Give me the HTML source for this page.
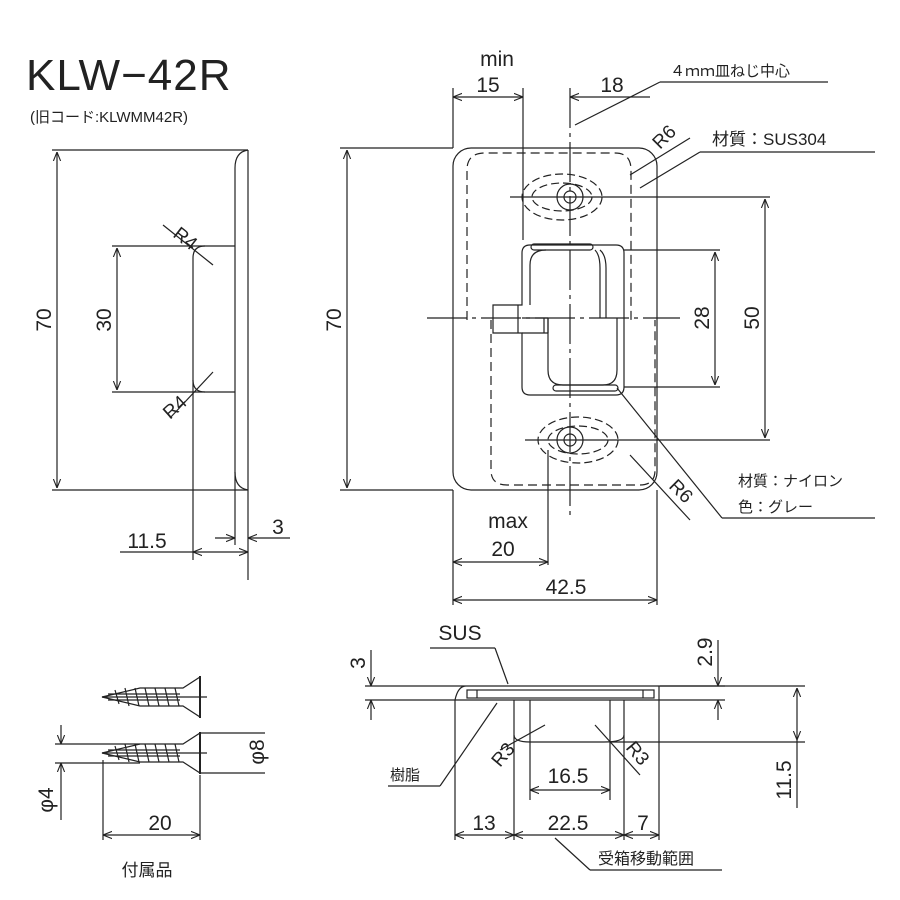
<!DOCTYPE html>
<html><head><meta charset="utf-8"><style>
body{margin:0;background:#fff}
svg{display:block}
text{font-family:"Liberation Sans","Noto Sans CJK JP",sans-serif;fill:#222}
</style></head><body>
<svg width="900" height="900" viewBox="0 0 900 900" xmlns="http://www.w3.org/2000/svg">
<defs>
<marker id="a" viewBox="0 0 10 10" refX="10" refY="5" markerWidth="9" markerHeight="9" orient="auto-start-reverse" markerUnits="userSpaceOnUse"><path d="M0,1 L10,5 L0,9" fill="none" stroke="#222" stroke-width="1.2"/></marker>
</defs>
<g stroke="#222" stroke-width="1.2" fill="none">
<!-- LEFT VIEW -->
<line x1="52" y1="150" x2="248" y2="150"/>
<line x1="52" y1="490" x2="248" y2="490"/>
<line x1="248" y1="150" x2="248" y2="580"/>
<path d="M248,150 Q235,152 235,168 L235,472 Q235,488 248,490"/>
<line x1="235" y1="472" x2="235" y2="545"/>
<line x1="112" y1="246" x2="235" y2="246"/>
<line x1="112" y1="392" x2="235" y2="392"/>
<path d="M205,246 Q193,246 193,258 L193,380 Q193,392 205,392"/>
<line x1="193" y1="380" x2="193" y2="560"/>
<line x1="57" y1="152" x2="57" y2="488" marker-start="url(#a)" marker-end="url(#a)"/>
<line x1="117" y1="248" x2="117" y2="390" marker-start="url(#a)" marker-end="url(#a)"/>
<line x1="120" y1="552" x2="193" y2="552"/>
<line x1="193" y1="552" x2="248" y2="552" marker-start="url(#a)" marker-end="url(#a)"/>
<line x1="215" y1="538" x2="235" y2="538" marker-end="url(#a)"/>
<line x1="290" y1="538" x2="248" y2="538" marker-end="url(#a)"/>
<line x1="163" y1="225" x2="213" y2="265"/>
<line x1="170" y1="418" x2="213" y2="372"/>

<!-- FRONT VIEW -->
<rect x="453" y="148" width="204" height="342" rx="18"/>
<path d="M467,320 L467,170 Q467,153 485,153 L615,153 Q631,153 631,170 L631,320" stroke-dasharray="9,5"/>
<path d="M491,320 L491,470 Q491,485 507,485 L640,485 Q655,485 655,470 L655,320" stroke-dasharray="9,5"/>
<line x1="427" y1="318" x2="680" y2="318" stroke-dasharray="40,5,4,5"/>
<line x1="570" y1="88" x2="570" y2="520" stroke-dasharray="40,5,4,5"/>
<line x1="523" y1="88" x2="523" y2="240"/>
<line x1="453" y1="88" x2="453" y2="148"/>
<line x1="453" y1="490" x2="453" y2="605"/>
<line x1="657" y1="490" x2="657" y2="605"/>
<line x1="548" y1="450" x2="548" y2="565"/>
<circle cx="570" cy="197" r="13"/><circle cx="570" cy="197" r="6"/>
<ellipse cx="562" cy="197" rx="40" ry="23" stroke-dasharray="8,4"/>
<ellipse cx="562" cy="197" rx="30" ry="14" stroke-dasharray="8,4"/>
<circle cx="570" cy="440" r="13"/><circle cx="570" cy="440" r="6"/>
<ellipse cx="578" cy="440" rx="40" ry="23" stroke-dasharray="8,4"/>
<ellipse cx="578" cy="440" rx="30" ry="14" stroke-dasharray="8,4"/>
<line x1="510" y1="197" x2="770" y2="197"/>
<line x1="525" y1="440" x2="770" y2="440"/>
<path d="M530,245 L616,245 Q624,245 624,253 L624,387 Q624,395 616,395 L530,395 Q522,395 522,387 L522,333 L493,333 L493,305 L522,305 L522,253 Q522,245 530,245 Z"/>
<path d="M546,250 Q530,250 530,265 L530,305"/>
<path d="M595,250 Q600,255 600,268 L600,318"/>
<path d="M600,250 Q606,255 606,268 L606,318"/>
<rect x="531" y="244" width="62" height="6" rx="3"/>
<rect x="553" y="385" width="65" height="6" rx="3"/>
<path d="M548,318 L548,370 Q548,385 563,385 L603,385 Q617,385 617,370 L617,318"/>
<line x1="522" y1="318" x2="548" y2="318"/>
<line x1="548" y1="318" x2="548" y2="333"/>
<line x1="522" y1="333" x2="548" y2="333"/>
<line x1="518" y1="305" x2="518" y2="333"/>
<line x1="544" y1="318" x2="544" y2="333"/>
<line x1="624" y1="250" x2="720" y2="250"/>
<line x1="624" y1="387" x2="720" y2="387"/>
<line x1="453" y1="97" x2="523" y2="97" marker-start="url(#a)" marker-end="url(#a)"/>
<line x1="570" y1="97" x2="630" y2="97" marker-start="url(#a)"/>
<line x1="630" y1="97" x2="650" y2="97"/>
<line x1="575" y1="125" x2="660" y2="82"/>
<line x1="660" y1="82" x2="828" y2="82"/>
<line x1="340" y1="148" x2="453" y2="148"/>
<line x1="340" y1="490" x2="453" y2="490"/>
<line x1="347" y1="150" x2="347" y2="488" marker-start="url(#a)" marker-end="url(#a)"/>
<line x1="715" y1="252" x2="715" y2="385" marker-start="url(#a)" marker-end="url(#a)"/>
<line x1="765" y1="199" x2="765" y2="438" marker-start="url(#a)" marker-end="url(#a)"/>
<line x1="453" y1="562" x2="548" y2="562" marker-start="url(#a)" marker-end="url(#a)"/>
<line x1="453" y1="600" x2="657" y2="600" marker-start="url(#a)" marker-end="url(#a)"/>
<line x1="630" y1="175" x2="690" y2="138"/>
<line x1="640" y1="188" x2="700" y2="152"/>
<line x1="700" y1="152" x2="875" y2="152"/>
<line x1="630" y1="455" x2="690" y2="520"/>
<line x1="617" y1="388" x2="722" y2="518"/>
<line x1="722" y1="518" x2="875" y2="518"/>

<!-- SECTION VIEW -->
<path d="M365,686 L466,686 Q458,686 455,700 L365,700"/>
<line x1="466" y1="686" x2="725" y2="686"/>
<line x1="455" y1="700" x2="725" y2="700"/>
<line x1="660" y1="686" x2="805" y2="686"/>
<line x1="455" y1="700" x2="455" y2="840"/>
<line x1="659" y1="686" x2="659" y2="840"/>
<rect x="467" y="690" width="187" height="8"/>
<line x1="477" y1="690" x2="477" y2="698"/>
<line x1="643" y1="690" x2="643" y2="698"/>
<path d="M514,700 L514,735 Q514,742 530,742 L604,742 Q624,742 624,735 L624,700"/>
<line x1="530" y1="700" x2="530" y2="800"/>
<line x1="610" y1="700" x2="610" y2="800"/>
<line x1="514" y1="735" x2="514" y2="840"/>
<line x1="624" y1="735" x2="624" y2="840"/>
<line x1="610" y1="742" x2="805" y2="742"/>
<line x1="371" y1="650" x2="371" y2="686" marker-end="url(#a)"/>
<line x1="371" y1="720" x2="371" y2="700" marker-end="url(#a)"/>
<line x1="718" y1="640" x2="718" y2="686" marker-end="url(#a)"/>
<line x1="718" y1="720" x2="718" y2="700" marker-end="url(#a)"/>
<line x1="797" y1="688" x2="797" y2="740" marker-start="url(#a)" marker-end="url(#a)"/>
<line x1="797" y1="740" x2="797" y2="808"/>
<line x1="530" y1="790" x2="610" y2="790" marker-start="url(#a)" marker-end="url(#a)"/>
<line x1="455" y1="835" x2="514" y2="835" marker-start="url(#a)" marker-end="url(#a)"/>
<line x1="514" y1="835" x2="624" y2="835" marker-start="url(#a)" marker-end="url(#a)"/>
<line x1="624" y1="835" x2="659" y2="835" marker-start="url(#a)" marker-end="url(#a)"/>
<line x1="500" y1="750" x2="545" y2="725"/>
<line x1="595" y1="725" x2="640" y2="775"/>
<line x1="430" y1="648" x2="495" y2="648"/>
<line x1="495" y1="648" x2="508" y2="684"/>
<line x1="388" y1="786" x2="440" y2="786"/>
<line x1="440" y1="786" x2="497" y2="703"/>
<line x1="555" y1="838" x2="590" y2="870"/>
<line x1="590" y1="870" x2="722" y2="870"/>

<!-- SCREWS -->
<path d="M102,697 L140,688 L183,688 L200,677 L200,717 L183,706 L140,706 Z"/>
<line x1="200" y1="676" x2="200" y2="718" stroke-width="2"/>
<line x1="102" y1="697" x2="207" y2="697"/>
<path d="M108,694 L180,694 M108,700 L180,700"/>
<path d="M115,690 l4,14 M125,688 l4,18 M135,688 l4,18 M145,688 l4,18 M155,688 l4,18 M165,688 l4,18 M175,688 l4,18"/>
<path d="M102,753 L140,744 L183,744 L200,733 L200,773 L183,762 L140,762 Z"/>
<line x1="200" y1="732" x2="200" y2="774" stroke-width="2"/>
<line x1="102" y1="753" x2="207" y2="753"/>
<path d="M108,750 L180,750 M108,756 L180,756"/>
<path d="M115,746 l4,14 M125,744 l4,18 M135,744 l4,18 M145,744 l4,18 M155,744 l4,18 M165,744 l4,18 M175,744 l4,18"/>
<line x1="55" y1="744" x2="140" y2="744"/>
<line x1="55" y1="763" x2="140" y2="763"/>
<line x1="61" y1="725" x2="61" y2="744" marker-end="url(#a)"/>
<line x1="61" y1="820" x2="61" y2="763" marker-end="url(#a)"/>
<line x1="200" y1="733" x2="265" y2="733"/>
<line x1="200" y1="773" x2="265" y2="773"/>
<line x1="103" y1="760" x2="103" y2="840"/>
<line x1="200" y1="775" x2="200" y2="840"/>
<line x1="103" y1="835" x2="200" y2="835" marker-start="url(#a)" marker-end="url(#a)"/>
</g>

<text x="26" y="90" font-size="44" style="font-weight:300" letter-spacing="1">KLW−42R</text>
<text x="30" y="122" font-size="15">(旧コード:KLWMM42R)</text>
<g font-size="21">
<text transform="translate(51,320) rotate(-90)" text-anchor="middle">70</text>
<text transform="translate(111,320) rotate(-90)" text-anchor="middle">30</text>
<text transform="translate(341,320) rotate(-90)" text-anchor="middle">70</text>
<text transform="translate(709,318) rotate(-90)" text-anchor="middle">28</text>
<text transform="translate(759,318) rotate(-90)" text-anchor="middle">50</text>
<text x="147" y="548" text-anchor="middle">11.5</text>
<text x="278" y="534" text-anchor="middle">3</text>
<text x="497" y="66" text-anchor="middle">min</text>
<text x="488" y="92" text-anchor="middle">15</text>
<text x="612" y="92" text-anchor="middle">18</text>
<text x="508" y="528" text-anchor="middle">max</text>
<text x="503" y="556" text-anchor="middle">20</text>
<text x="566" y="594" text-anchor="middle">42.5</text>
<text x="712" y="145" font-size="17">材質：SUS304</text>
<text x="460" y="640" text-anchor="middle">SUS</text>
<text transform="translate(365,663) rotate(-90)" text-anchor="middle">3</text>
<text transform="translate(712,652) rotate(-90)" text-anchor="middle">2.9</text>
<text transform="translate(791,780) rotate(-90)" text-anchor="middle">11.5</text>
<text x="568" y="783" text-anchor="middle">16.5</text>
<text x="484" y="830" text-anchor="middle">13</text>
<text x="568" y="830" text-anchor="middle">22.5</text>
<text x="643" y="830" text-anchor="middle">7</text>
<text x="160" y="830" text-anchor="middle">20</text>
<text transform="translate(53,800) rotate(-90)" text-anchor="middle">φ4</text>
<text transform="translate(264,752) rotate(-90)" text-anchor="middle">φ8</text>
<text transform="translate(172,236) rotate(38)" font-size="19">R4</text>
<text transform="translate(170,420) rotate(-42)" font-size="19">R4</text>
<text transform="translate(660,150) rotate(-45)" font-size="19">R6</text>
<text transform="translate(668,487) rotate(45)" font-size="19">R6</text>
<text transform="translate(500,768) rotate(-50)" font-size="19">R3</text>
<text transform="translate(625,748) rotate(50)" font-size="19">R3</text>
</g>
<text x="670" y="76" font-size="15">４ｍｍ皿ねじ中心</text>
<text x="738" y="486" font-size="15">材質：ナイロン</text>
<text x="738" y="512" font-size="15">色：グレー</text>
<text x="390" y="780" font-size="15">樹脂</text>
<text x="598" y="864" font-size="16">受箱移動範囲</text>
<text x="147" y="876" font-size="17" text-anchor="middle">付属品</text>
</svg>
</body></html>
